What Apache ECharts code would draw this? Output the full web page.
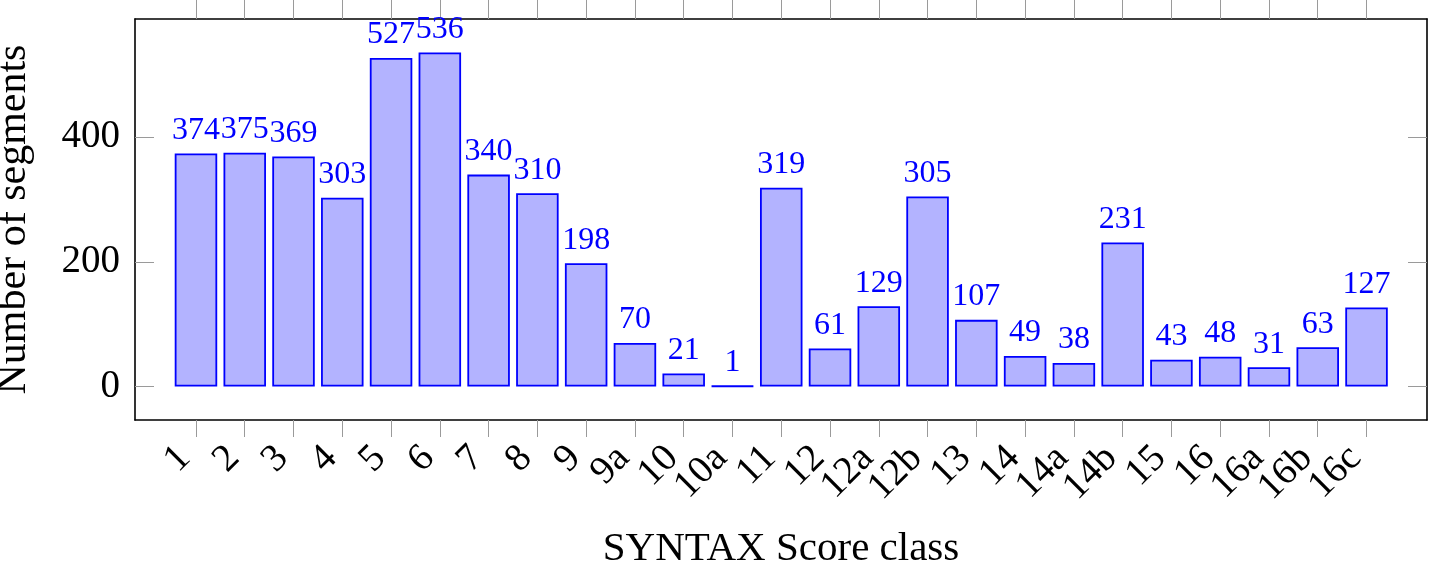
<!DOCTYPE html>
<html>
<head>
<meta charset="utf-8">
<script src="https://cdn.jsdelivr.net/npm/echarts@6/dist/echarts.min.js"></script>
<style>
html,body{margin:0;padding:0;background:#fff;}
#chart{width:1429px;height:562px;}
</style>
</head>
<body>
<div id="chart"></div>
<script>
const categories = ['1','2','3','4','5','6','7','8','9','9a','10','10a','11','12','12a','12b','13','14','14a','14b','15','16','16a','16b','16c'];
const segments = [374,375,369,303,527,536,340,310,198,70,21,1,319,61,129,305,107,49,38,231,43,48,31,63,127];
const yTicks = [0,200,400];

const FONT = '"Liberation Serif", "DejaVu Serif", serif';
const idx = categories.map((c,i)=>i);
const barData = segments.map((v,i)=>[i,v]);

// axis extent (in category-index units) and frame geometry
const X_MIN = -1.25, X_MAX = 25.24;
const G = {left:135, right:2, top:19, bottom:142};
const plotW = 1429 - G.left - G.right;
const step = plotW / (X_MAX - X_MIN);
// label grid: same pixel span as the categories' bands
const labelGrid = {
  left: G.left + (0 - X_MIN - 0.5) * step,
  right: G.right + (X_MAX - (categories.length - 1) - 0.5) * step,
  top: G.top, bottom: G.bottom
};

const chart = echarts.init(document.getElementById('chart'));
const tickStyle = {color:'#9a9a9a', width:1};
const frame = {show:true, onZero:false, lineStyle:{color:'#000', width:1.6}};

chart.setOption({
  animation:false,
  grid:[
    Object.assign({containLabel:false, outerBoundsMode:'none'}, G),
    Object.assign({containLabel:false, outerBoundsMode:'none'}, labelGrid)
  ],
  xAxis:[{
    gridIndex:0, type:'value', position:'bottom', min:X_MIN, max:X_MAX,
    axisLine:frame,
    axisTick:{show:true, inside:false, length:17, lineStyle:tickStyle, customValues:idx},
    axisLabel:{show:false},
    splitLine:{show:false},
    name:'SYNTAX Score class', nameLocation:'middle', nameGap:109,
    nameTextStyle:{fontFamily:FONT, fontSize:41, color:'#000'}
  },{
    gridIndex:0, type:'value', position:'top', min:X_MIN, max:X_MAX,
    axisLine:frame,
    axisTick:{show:true, inside:false, length:19, lineStyle:tickStyle, customValues:idx},
    axisLabel:{show:false},
    splitLine:{show:false}
  },{
    gridIndex:1, type:'category', position:'bottom', data:categories, boundaryGap:true,
    axisLine:{show:false}, axisTick:{show:false}, splitLine:{show:false},
    axisLabel:{show:true, interval:0, rotate:45, margin:21,
      padding:[0,16,0,0], lineHeight:24,
      fontFamily:FONT, fontSize:39, color:'#000'}
  }],
  yAxis:[{
    gridIndex:0, type:'value', position:'left', min:-53.6, max:589.6,
    axisLine:frame,
    axisTick:{show:true, inside:true, length:19, lineStyle:tickStyle, customValues:yTicks},
    axisLabel:{show:true, customValues:yTicks, margin:15,
      fontFamily:FONT, fontSize:39, color:'#000'},
    splitLine:{show:false},
    name:'Number of segments', nameLocation:'middle', nameGap:100, nameRotate:90,
    nameTextStyle:{fontFamily:FONT, fontSize:42, color:'#000'}
  },{
    gridIndex:0, type:'value', position:'right', min:-53.6, max:589.6,
    axisLine:frame,
    axisTick:{show:true, inside:true, length:19, lineStyle:tickStyle, customValues:yTicks},
    axisLabel:{show:false},
    splitLine:{show:false}
  },{
    gridIndex:1, type:'value', min:-53.6, max:589.6, show:false
  }],
  series:[{
    type:'bar',
    xAxisIndex:0, yAxisIndex:0,
    data:barData,
    barWidth:42.5,
    itemStyle:{color:'#b3b3ff', borderColor:'#0000ff', borderWidth:1.8},
    label:{show:true, position:'top', distance:7,
      formatter:(p)=>String(p.value[1]),
      fontFamily:FONT, fontSize:32, color:'#0000ff'}
  }]
});
</script>
</body>
</html>
